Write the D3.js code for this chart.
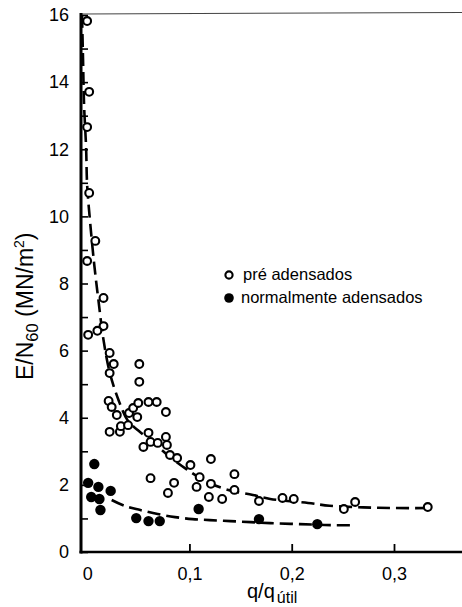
<!DOCTYPE html>
<html>
<head>
<meta charset="utf-8">
<script src="https://cdn.jsdelivr.net/npm/d3@7"></script>
<style>
  html, body { margin: 0; padding: 0; background: #fff; }
  svg { display: block; font-family: "Liberation Sans", Arial, sans-serif; }
</style>
</head>
<body>
<svg id="chart" width="462" height="607"></svg>
<script>
// Pre-consolidated soils (open circles): q/q_util, E/N60
const preX = [0.000, 0.002, 0.000, 0.002, 0.008, 0.000, 0.016, 0.016, 0.010, 0.001,
              0.022, 0.026, 0.022, 0.051, 0.051, 0.021, 0.024, 0.029, 0.022, 0.032,
              0.033, 0.040, 0.041, 0.045, 0.050, 0.049, 0.060, 0.068, 0.077, 0.060,
              0.055, 0.062, 0.069, 0.077, 0.078, 0.081, 0.088, 0.101, 0.062, 0.085,
              0.079, 0.110, 0.107, 0.121, 0.121, 0.119, 0.132, 0.144, 0.144, 0.168,
              0.191, 0.202, 0.251, 0.262, 0.333];
const preY = [15.82, 13.71, 12.66, 10.70, 9.27, 8.67, 7.57, 6.73, 6.59, 6.47,
              5.93, 5.60, 5.33, 5.60, 5.07, 4.50, 4.32, 4.08, 3.58, 3.58,
              3.75, 3.78, 4.14, 4.29, 4.44, 4.02, 4.47, 4.47, 4.17, 3.55,
              3.13, 3.28, 3.25, 3.43, 3.19, 2.89, 2.80, 2.59, 2.20, 2.06,
              1.76, 2.23, 1.94, 2.77, 2.03, 1.64, 1.58, 2.32, 1.85, 1.52,
              1.61, 1.58, 1.28, 1.49, 1.34];

// Normally consolidated soils (filled circles)
const normX = [0.007, 0.001, 0.011, 0.004, 0.012, 0.013, 0.023, 0.048, 0.060, 0.071, 0.109, 0.168, 0.225];
const normY = [2.62, 2.06, 1.94, 1.64, 1.58, 1.25, 1.82, 1.01, 0.92, 0.92, 1.28, 0.98, 0.83];

// Trend curves (dashed)
const preCurveX = [-0.005, -0.004, -0.003, -0.001, 0.000, 0.003, 0.007, 0.011, 0.016, 0.022,
                   0.031, 0.040, 0.050, 0.065, 0.081, 0.097, 0.117, 0.138, 0.162, 0.179,
                   0.216, 0.237, 0.270, 0.301, 0.335];
const preCurveY = [16.0, 14.66, 13.32, 12.04, 10.94, 9.80, 8.55, 7.51, 6.32, 5.36,
                   4.50, 3.90, 3.62, 3.25, 2.83, 2.47, 2.09, 1.85, 1.70, 1.58,
                   1.46, 1.38, 1.33, 1.31, 1.31];
const normCurveX = [0.024, 0.037, 0.052, 0.069, 0.086, 0.103, 0.120, 0.140, 0.160, 0.179, 0.208, 0.238, 0.262];
const normCurveY = [1.55, 1.37, 1.25, 1.13, 1.04, 0.98, 0.95, 0.92, 0.89, 0.86, 0.83, 0.80, 0.80];

// Axes
const xTickValues = [0, 0.1, 0.2, 0.3];
const xTickLabels = ["0", "0,1", "0,2", "0,3"];
const yTickValues = d3.range(0, 17, 1);
const yTickLabels = yTickValues.map(v => v % 2 === 0 ? String(v) : "");

const legendLabels = ["pré adensados", "normalmente adensados"];

const svg = d3.select("#chart");
const x = d3.scaleLinear().domain([-0.006, 0.3]).range([81, 394]);
const y = d3.scaleLinear().domain([0, 16]).range([552, 15]);

// frame: thin top rule, heavy left and bottom axes
svg.append("line")
  .attr("x1", x(-0.006)).attr("x2", 462)
  .attr("y1", y(16) - 1).attr("y2", y(16) - 2.5)
  .attr("stroke", "#444").attr("stroke-width", 1.1);

const yAxis = d3.axisLeft(y)
  .tickValues(yTickValues)
  .tickSize(-7)
  .tickPadding(12)
  .tickFormat((d, i) => yTickLabels[i]);
const gy = svg.append("g").attr("transform", `translate(${x(-0.006)},0)`).call(yAxis);
gy.select(".domain").remove();
gy.selectAll(".tick line").attr("stroke", "#000").attr("stroke-width", 1.6);
gy.selectAll(".tick text").attr("font-size", 18).attr("fill", "#000")
  .attr("font-family", "Liberation Sans, Arial, sans-serif");

const xAxis = d3.axisBottom(x)
  .tickValues(xTickValues)
  .tickSize(-8)
  .tickPadding(15)
  .tickFormat((d, i) => xTickLabels[i]);
const gx = svg.append("g").attr("transform", `translate(0,${y(0)})`).call(xAxis);
gx.select(".domain").remove();
gx.selectAll(".tick line").attr("stroke", "#000").attr("stroke-width", 1.8)
  .attr("opacity", d => d === 0 ? 0 : 1);
gx.selectAll(".tick text").attr("font-size", 18).attr("fill", "#000")
  .attr("font-family", "Liberation Sans, Arial, sans-serif");

svg.append("line")
  .attr("x1", x(-0.006)).attr("x2", x(-0.006))
  .attr("y1", y(16) - 2).attr("y2", y(0) + 1.5)
  .attr("stroke", "#000").attr("stroke-width", 3);
svg.append("line")
  .attr("x1", x(-0.006) - 1.5).attr("x2", 462)
  .attr("y1", y(0)).attr("y2", y(0))
  .attr("stroke", "#000").attr("stroke-width", 2.6);

// dashed trend curves
const line = d3.line().x(d => x(d[0])).y(d => y(d[1])).curve(d3.curveCatmullRom.alpha(0.5));
function curvePts(xs, ys) { return xs.map((v, i) => [v, ys[i]]); }
[[preCurveX, preCurveY], [normCurveX, normCurveY]].forEach(([xs, ys]) => {
  svg.append("path")
    .datum(curvePts(xs, ys))
    .attr("d", line)
    .attr("fill", "none")
    .attr("stroke", "#000")
    .attr("stroke-width", 2.6)
    .attr("stroke-dasharray", "13,6");
});

// points
svg.append("g").selectAll("circle")
  .data(curvePts(preX, preY))
  .join("circle")
  .attr("cx", d => x(d[0])).attr("cy", d => y(d[1]))
  .attr("r", 3.9)
  .attr("fill", "#fff").attr("stroke", "#000").attr("stroke-width", 2.1);

svg.append("g").selectAll("circle")
  .data(curvePts(normX, normY))
  .join("circle")
  .attr("cx", d => x(d[0])).attr("cy", d => y(d[1]))
  .attr("r", 5.2)
  .attr("fill", "#000");

// legend
const lg = svg.append("g");
lg.append("circle").attr("cx", 229).attr("cy", 275).attr("r", 3.6)
  .attr("fill", "#fff").attr("stroke", "#000").attr("stroke-width", 2.1);
lg.append("text").attr("x", 243).attr("y", 279.5).attr("font-size", 16.5)
  .attr("fill", "#000").text(legendLabels[0]);
lg.append("circle").attr("cx", 229).attr("cy", 298).attr("r", 4.8).attr("fill", "#000");
lg.append("text").attr("x", 241).attr("y", 303).attr("font-size", 16.5)
  .attr("fill", "#000").text(legendLabels[1]);

// axis titles
const xt = svg.append("text").attr("x", 247).attr("y", 598).attr("font-size", 20).attr("fill", "#000");
xt.append("tspan").text("q/q");
xt.append("tspan").attr("font-size", 16).attr("dy", 5).attr("dx", 2).text("útil");

const yt = svg.append("text")
  .attr("transform", "translate(33,380) rotate(-90)")
  .attr("text-anchor", "start")
  .attr("font-size", 23).attr("fill", "#000");
yt.append("tspan").text("E/N");
yt.append("tspan").attr("font-size", 16.5).attr("dy", 5).text("60");
yt.append("tspan").attr("dy", -5).text(" (MN/m");
yt.append("tspan").attr("font-size", 14).attr("dy", -9).text("2");
yt.append("tspan").attr("dy", 9).text(")");
</script>
</body>
</html>
